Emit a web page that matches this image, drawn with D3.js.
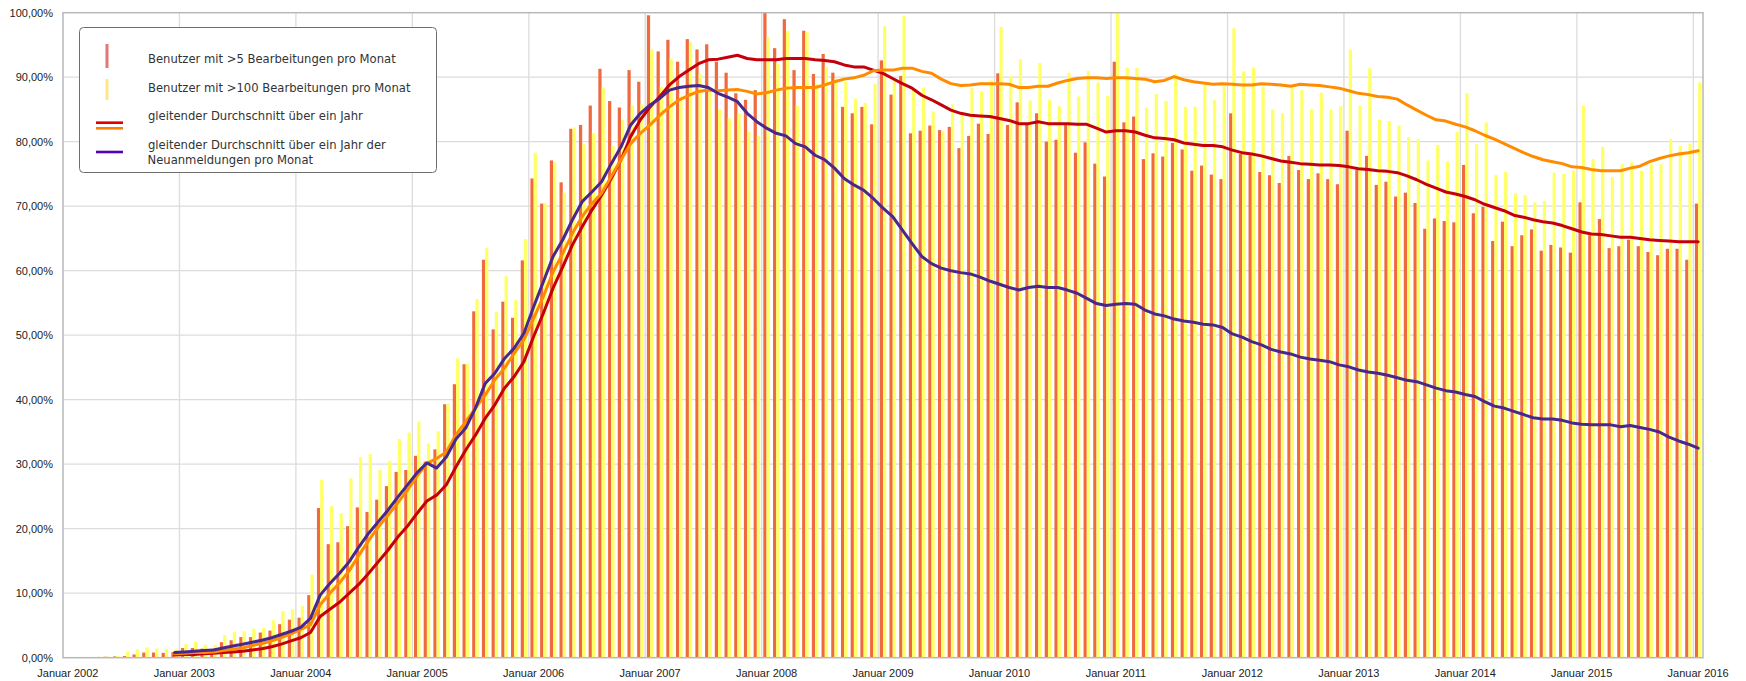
<!DOCTYPE html>
<html>
<head>
<meta charset="utf-8">
<script src="https://cdn.jsdelivr.net/npm/d3@7"></script>
<style>
  body { margin: 0; background: #fff; }
  svg { display: block; }
  .ylab, .xlab { font-family: "Liberation Sans", Arial, sans-serif; font-size: 11px; fill: #222; }
  .leg { font-family: "DejaVu Sans", sans-serif; font-size: 11.6px; fill: #333; }
</style>
</head>
<body>
<svg width="1746" height="681"></svg>
<script>
// months from Januar 2002 to Januar 2016 (169 categories)
const monthCount = 169
const tickLabels = ["Januar 2002", "Januar 2003", "Januar 2004", "Januar 2005", "Januar 2006", "Januar 2007",
  "Januar 2008", "Januar 2009", "Januar 2010", "Januar 2011", "Januar 2012", "Januar 2013",
  "Januar 2014", "Januar 2015", "Januar 2016"]
const yTicks = [0, 10, 20, 30, 40, 50, 60, 70, 80, 90, 100]

// Benutzer mit >5 Bearbeitungen pro Monat (%)
const over5 = [
  0.05, 0.05, 0.1, 0.1, 0.15, 0.2, 0.25, 0.5, 0.8, 0.8, 0.75, 0.85,
  1.5, 1.5, 1.4, 1.4, 2.4, 2.7, 3.2, 3.2, 3.9, 4.2, 5.2, 5.9,
  6.2, 9.7, 23.2, 17.6, 17.9, 20.4, 23.3, 22.6, 24.5, 26.6, 28.8, 29.1,
  31.3, 30.4, 32.3, 39.3, 42.4, 45.5, 53.7, 61.7, 50.9, 55.2, 52.7, 61.6,
  74.3, 70.4, 77.1, 73.7, 82.0, 82.6, 85.6, 91.3, 86.3, 85.3, 91.1, 89.3,
  99.6, 94.0, 95.8, 92.4, 95.9, 94.3, 95.1, 92.4, 90.7, 87.5, 86.5, 88.0,
  100, 94.5, 99.0, 91.1, 97.2, 90.5, 93.6, 90.7, 85.4, 84.4, 85.4, 82.7,
  92.6, 87.3, 90.2, 81.3, 81.7, 82.5, 81.8, 82.3, 79.0, 80.9, 82.8, 81.2,
  90.6, 82.6, 86.1, 82.8, 84.4, 80.0, 80.3, 82.6, 78.3, 79.9, 76.6, 74.6,
  92.4, 83.0, 83.9, 77.3, 78.2, 77.7, 79.8, 78.8, 75.5, 76.3, 74.9, 74.2,
  84.4, 78.1, 77.9, 75.3, 74.8, 73.6, 77.8, 75.6, 74.2, 75.1, 74.2, 73.4,
  81.7, 75.6, 77.8, 73.3, 73.8, 71.5, 72.1, 70.5, 66.5, 68.1, 67.7, 67.5,
  76.4, 68.9, 69.9, 64.6, 67.6, 63.8, 65.5, 66.4, 63.1, 64.0, 63.6, 62.8,
  70.6, 65.5, 68.0, 63.5, 63.8, 64.8, 63.8, 62.9, 62.4, 63.4, 63.4, 61.7,
  70.4
]

// Benutzer mit >100 Bearbeitungen pro Monat (%)
const over100 = [
  0.1, 0.1, 0.1, 0.15, 0.2, 0.3, 0.9, 1.3, 1.6, 1.4, 1.4, 1.4,
  2.1, 2.5, 2.0, 2.0, 3.5, 4.0, 4.1, 4.5, 4.6, 5.8, 7.2, 7.5,
  8.0, 12.9, 27.6, 23.5, 22.4, 27.8, 31.1, 31.6, 29.1, 30.5, 33.9, 34.9,
  36.6, 33.2, 35.1, 39.4, 46.4, 45.6, 55.6, 63.5, 53.6, 59.2, 55.5, 64.9,
  78.3, 70.5, 76.8, 72.1, 82.2, 79.6, 81.3, 88.4, 79.4, 83.4, 85.6, 85.8,
  94.3, 88.5, 92.9, 87.0, 95.4, 90.5, 88.0, 85.0, 83.6, 84.4, 81.5, 80.9,
  96.2, 92.1, 97.2, 85.6, 97.0, 89.0, 91.6, 89.8, 89.3, 86.7, 86.0, 89.0,
  97.9, 89.8, 99.5, 88.1, 88.4, 84.7, 81.6, 85.8, 84.4, 88.3, 87.8, 89.5,
  97.8, 90.2, 92.8, 86.4, 92.2, 86.5, 85.5, 90.7, 87.0, 91.0, 89.2, 87.1,
  100, 91.5, 91.4, 85.3, 87.4, 86.3, 90.5, 85.4, 85.4, 88.8, 86.5, 88.6,
  97.6, 90.9, 91.5, 88.5, 85.0, 84.4, 88.4, 88.0, 85.0, 87.6, 84.9, 85.5,
  94.3, 85.6, 91.4, 83.4, 83.2, 82.5, 80.7, 80.4, 77.1, 79.5, 76.9, 81.5,
  87.5, 79.6, 83.0, 74.8, 75.3, 72.0, 71.7, 70.6, 70.8, 75.2, 75.0, 75.5,
  85.6, 77.3, 79.2, 74.5, 76.5, 76.8, 75.5, 76.5, 76.5, 80.4, 79.4, 79.7,
  89.2
]

// gleitende Durchschnitte, beginnend mit Dezember 2002 (Index 11)
const avgStart = 11
const avgOver5 = [
  0.4, 0.5, 0.5, 0.6, 0.7, 0.8, 0.9, 1.0, 1.2, 1.4, 1.7, 2.1, 2.6, 3.1, 3.9,
  6.4, 7.5, 8.6, 10.0, 11.4, 13.1, 14.9, 16.7, 18.7, 20.4, 22.4, 24.3, 25.2, 26.8, 29.6,
  32.2, 34.5, 37.1, 39.2, 41.8, 43.6, 45.9, 49.8, 53.4, 57.3, 60.6, 64.0, 66.8, 69.4, 71.7, 74.3, 77.2, 80.8, 83.4,
  85.4, 87.0, 88.8, 90.1, 91.1, 92.1, 92.7, 92.8, 93.1, 93.4, 92.9, 92.7, 92.7, 92.7, 92.9, 92.9, 92.9,
  92.7, 92.6, 92.4, 91.9, 91.6, 91.6, 91.1, 90.6, 89.8, 89.0, 88.3, 87.2, 86.5, 85.7, 84.9,
  84.4, 84.1, 84.0, 83.9, 83.6, 83.3, 82.8, 82.8, 83.1, 82.8, 82.8, 82.8, 82.7, 82.7, 82.1,
  81.5, 81.7, 81.7, 81.5, 81.0, 80.6, 80.5, 80.3, 79.8, 79.6, 79.4, 79.4, 79.2, 78.7, 78.3,
  78.1, 77.8, 77.4, 77.0, 76.8, 76.6, 76.5, 76.4, 76.4, 76.3, 76.1, 75.8, 75.7, 75.5, 75.4,
  75.2, 74.7, 74.1, 73.4, 72.8, 72.2, 71.9, 71.5, 71.0, 70.3, 69.8, 69.3, 68.6, 68.3, 67.9,
  67.6, 67.4, 67.0, 66.5, 66.0, 65.7, 65.6, 65.4, 65.2, 65.2, 65.0, 64.8, 64.7, 64.6, 64.5,
  64.5, 64.5
]
const avgOver100 = [
  0.6, 0.7, 0.8, 0.8, 0.9, 1.1, 1.3, 1.5, 1.9, 2.2, 2.6, 3.1, 3.7, 4.4, 5.1,
  8.2, 10.0, 11.6, 13.5, 15.9, 18.2, 20.3, 22.1, 24.0, 26.0, 28.2, 30.1, 30.9, 31.9, 34.6,
  36.6, 38.7, 40.7, 43.1, 44.9, 47.2, 49.3, 52.6, 56.0, 59.8, 62.7, 65.8, 68.4, 70.4, 72.0, 74.6, 77.2, 79.7, 81.3,
  82.6, 84.1, 85.4, 86.5, 87.2, 87.8, 88.0, 87.9, 88.0, 88.1, 87.8, 87.4, 87.6, 88.0, 88.3, 88.4, 88.4,
  88.4, 88.8, 89.3, 89.7, 89.9, 90.3, 91.0, 91.1, 91.1, 91.4, 91.4, 90.9, 90.6, 89.7, 89.0,
  88.7, 88.8, 89.0, 89.0, 89.0, 88.9, 88.4, 88.4, 88.6, 88.6, 89.1, 89.5, 89.8, 89.9, 89.9,
  89.8, 89.9, 89.9, 89.8, 89.7, 89.3, 89.5, 90.1, 89.6, 89.3, 89.1, 88.9, 89.0, 88.9, 88.8,
  88.8, 89.0, 88.9, 88.8, 88.6, 88.9, 88.8, 88.7, 88.5, 88.3, 87.9, 87.5, 87.3, 87.0, 86.9,
  86.6, 85.7, 84.9, 84.1, 83.4, 83.2, 82.7, 82.3, 81.7, 81.0, 80.4, 79.7, 79.0, 78.3, 77.7,
  77.2, 76.9, 76.6, 76.1, 76.0, 75.7, 75.5, 75.5, 75.5, 75.9, 76.2, 76.9, 77.4, 77.8, 78.1,
  78.3, 78.6
]
const avgSignups = [
  0.8, 0.9, 1.0, 1.1, 1.2, 1.5, 1.8, 2.1, 2.4, 2.7, 3.1, 3.6, 4.1, 4.7, 6.1,
  9.7, 11.5, 13.1, 14.9, 17.2, 19.3, 21.1, 22.9, 24.9, 26.8, 28.7, 30.2, 29.4, 31.1, 33.9,
  35.6, 38.7, 42.5, 44.1, 46.4, 48.0, 50.3, 54.4, 58.3, 62.2, 64.8, 67.9, 70.7, 72.2, 73.8, 76.6, 79.2, 82.6, 84.4,
  85.7, 86.7, 88.0, 88.4, 88.6, 88.7, 88.4, 87.5, 86.9, 86.2, 84.4, 83.1, 82.1, 81.3, 80.9, 79.7, 79.2,
  77.9, 77.2, 75.9, 74.3, 73.3, 72.5, 71.2, 69.7, 68.4, 66.3, 64.2, 62.2, 61.1, 60.4, 60.0,
  59.7, 59.5, 59.0, 58.4, 57.9, 57.4, 57.0, 57.4, 57.6, 57.4, 57.4, 57.0, 56.5, 55.7, 54.9,
  54.6, 54.8, 54.9, 54.8, 53.9, 53.3, 53.0, 52.5, 52.2, 52.0, 51.7, 51.6, 51.2, 50.2, 49.7,
  49.0, 48.5, 47.8, 47.4, 47.1, 46.6, 46.3, 46.1, 45.9, 45.4, 45.1, 44.6, 44.3, 44.1, 43.8,
  43.4, 43.0, 42.8, 42.3, 41.8, 41.4, 41.2, 40.8, 40.5, 39.7, 39.0, 38.7, 38.2, 37.7, 37.2,
  37.0, 37.0, 36.8, 36.4, 36.2, 36.1, 36.1, 36.1, 35.8, 36.0, 35.7, 35.4, 35.0, 34.2, 33.6,
  33.1, 32.5
]

const legendLabels = [
  "Benutzer mit >5 Bearbeitungen pro Monat",
  "Benutzer mit >100 Bearbeitungen pro Monat",
  "gleitender Durchschnitt über ein Jahr",
  ["gleitender Durchschnitt über ein Jahr der", "Neuanmeldungen pro Monat"]
]

const barColors = { over5: "#ef6a3e", over100: "#ffff66" }
const lineColors = { over5: "#c4000c", over100: "#ff8c00", signups: "#47288c" }

const svg = d3.select("svg")
const plot = { left: 63, right: 1703, top: 12.7, bottom: 657.7 }

const months = d3.range(monthCount)
const x = d3.scaleBand().domain(months).range([plot.left, plot.right]).padding(0)
const xs = d3.scaleBand().domain(["over5", "over100"]).range([0, x.bandwidth()]).paddingInner(0).paddingOuter(0.5)
const y = d3.scaleLinear().domain([0, 100]).range([plot.bottom, plot.top])

const de = d3.formatLocale({ decimal: ",", thousands: ".", grouping: [3], currency: ["", " €"] })
const pct = v => de.format(".2f")(v) + "%"

// grid
svg.append("g")
  .selectAll("line")
  .data(yTicks.slice(1, -1))
  .join("line")
  .attr("x1", plot.left).attr("x2", plot.right)
  .attr("y1", d => y(d)).attr("y2", d => y(d))
  .attr("stroke", "#dcdcdc").attr("stroke-width", 1.3)
svg.append("g")
  .selectAll("line")
  .data(tickLabels.slice(1))
  .join("line")
  .attr("x1", (d, i) => x((i + 1) * 12)).attr("x2", (d, i) => x((i + 1) * 12))
  .attr("y1", plot.top).attr("y2", plot.bottom)
  .attr("stroke", "#dcdcdc").attr("stroke-width", 1.3)

// bars
const bars = svg.append("g")
for (const [key, values] of [["over5", over5], ["over100", over100]]) {
  bars.append("g")
    .selectAll("rect")
    .data(values)
    .join("rect")
    .attr("x", (d, i) => x(i) + xs(key))
    .attr("width", xs.bandwidth())
    .attr("y", d => y(d))
    .attr("height", d => y(0) - y(d))
    .attr("fill", barColors[key])
}

// plot frame
svg.append("rect")
  .attr("x", plot.left).attr("y", plot.top)
  .attr("width", plot.right - plot.left).attr("height", plot.bottom - plot.top)
  .attr("fill", "none").attr("stroke", "#b8b8b8").attr("stroke-width", 1.5)

// moving averages
const line = d3.line()
  .x((d, i) => x(avgStart + i) + x.bandwidth() / 2)
  .y(d => y(d))
for (const [key, values] of [["over5", avgOver5], ["over100", avgOver100], ["signups", avgSignups]]) {
  svg.append("path")
    .datum(values)
    .attr("d", line)
    .attr("fill", "none")
    .attr("stroke", lineColors[key])
    .attr("stroke-width", 3)
    .attr("stroke-linejoin", "round")
    .attr("stroke-linecap", "round")
}

// axes labels
svg.append("g")
  .selectAll("text")
  .data(yTicks)
  .join("text")
  .attr("class", "ylab")
  .attr("x", 53).attr("y", d => y(d))
  .attr("dy", "0.35em")
  .attr("text-anchor", "end")
  .text(pct)
svg.append("g")
  .selectAll("text")
  .data(tickLabels)
  .join("text")
  .attr("class", "xlab")
  .attr("x", (d, i) => x(i * 12) + x.bandwidth() / 2)
  .attr("y", 677)
  .attr("text-anchor", "middle")
  .text(d => d)

// legend
const legend = svg.append("g")
legend.append("rect")
  .attr("x", 79.5).attr("y", 27.5).attr("width", 357).attr("height", 145)
  .attr("rx", 4).attr("fill", "#fff").attr("stroke", "#6e6e6e").attr("stroke-width", 1)
legend.append("rect").attr("x", 105.5).attr("y", 44).attr("width", 3).attr("height", 24).attr("fill", "#e27777")
legend.append("rect").attr("x", 105.5).attr("y", 79).attr("width", 3).attr("height", 21).attr("fill", "#ffe68a")
legend.append("line").attr("x1", 96).attr("x2", 123).attr("y1", 122.7).attr("y2", 122.7)
  .attr("stroke", "#dd0000").attr("stroke-width", 2.6)
legend.append("line").attr("x1", 96).attr("x2", 123).attr("y1", 128.3).attr("y2", 128.3)
  .attr("stroke", "#ff8000").attr("stroke-width", 2.6)
legend.append("line").attr("x1", 96).attr("x2", 123).attr("y1", 152).attr("y2", 152)
  .attr("stroke", "#5000b8").attr("stroke-width", 2.6)
const legY = [63, 92, 120, 149]
legendLabels.forEach((label, i) => {
  const t = legend.append("text").attr("class", "leg").attr("x", 148).attr("y", legY[i])
  if (Array.isArray(label)) {
    t.append("tspan").attr("x", 148).text(label[0])
    t.append("tspan").attr("x", 147.5).attr("dy", 15).text(label[1])
  } else {
    t.text(label)
  }
})
</script>
</body>
</html>
